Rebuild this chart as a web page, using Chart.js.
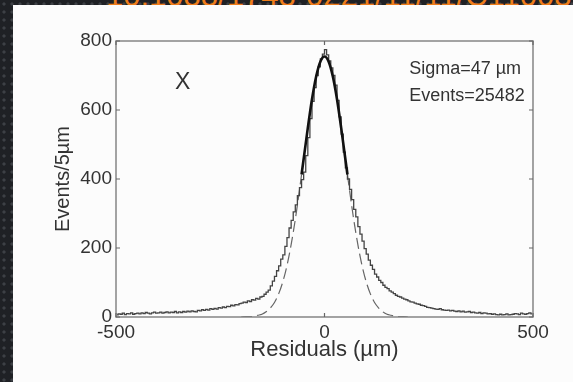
<!DOCTYPE html>
<html>
<head>
<meta charset="utf-8">
<script src="https://cdn.jsdelivr.net/npm/chart.js@4.4.0/dist/chart.umd.min.js"></script>
<style>
    html, body { margin: 0; padding: 0; }
    body {
        width: 573px; height: 382px; overflow: hidden; position: relative;
        background-color: #1f2125;
        background-image: radial-gradient(circle, #3d4045 1.3px, transparent 1.9px);
        background-size: 8px 8px;
    }
    #doi {
        position: absolute; left: 106px; top: -22px;
        font: 31px "Liberation Sans", Arial, sans-serif;
        color: #ef7d1a; white-space: nowrap;
    }
    #panel { position: absolute; left: 13px; top: 5px; right: 0; bottom: 0; background: #fcfcfc; }
    #wrap { position: absolute; left: 0; top: 0; width: 573px; height: 382px; }
</style>
</head>
<body>
<div id="doi">10.1088/1748-0221/11/11/C11003</div>
<div id="panel"></div>
<div id="wrap"><canvas id="resChart" width="573" height="382"></canvas></div>

<script>
// ---------------- Data ----------------
const binStart = -500;
const binWidth = 5;   // Events per 5 um
const counts = [
    // -500 .. -450
    6, 9, 8, 11, 7, 10, 9, 12, 8, 10,
    // -450 .. -400
    11, 9, 12, 10, 13, 11, 9, 12, 14, 11,
    // -400 .. -350
    12, 14, 11, 13, 15, 12, 14, 13, 16, 12,
    // -350 .. -300
    15, 13, 16, 14, 17, 15, 18, 16, 15, 19,
    // -300 .. -250
    18, 21, 19, 22, 20, 24, 22, 25, 23, 27,
    // -250 .. -200
    26, 29, 27, 31, 30, 34, 32, 36, 35, 39,
    // -200 .. -150
    40, 43, 42, 47, 45, 50, 49, 54, 52, 58,
    // -150 .. -100
    60, 66, 72, 78, 90, 104, 118, 134, 148, 168,
    // -100 .. -50
    180, 205, 230, 258, 280, 305, 325, 352, 375, 398,
    // -50 .. 0
    420, 468, 520, 575, 625, 665, 700, 725, 748, 762,
    // 0 .. 50
    775, 760, 742, 722, 700, 672, 628, 580, 530, 478,
    // 50 .. 100
    432, 400, 370, 340, 312, 290, 262, 240, 220, 198,
    // 100 .. 150
    182, 165, 150, 138, 124, 116, 106, 100, 92, 86,
    // 150 .. 200
    82, 76, 72, 68, 63, 60, 58, 55, 52, 50,
    // 200 .. 250
    47, 44, 43, 40, 38, 37, 34, 33, 31, 28,
    // 250 .. 300
    27, 26, 24, 23, 22, 24, 21, 20, 19, 20,
    // 300 .. 350
    18, 19, 17, 16, 18, 15, 17, 14, 15, 16,
    // 350 .. 400
    13, 14, 12, 11, 13, 10, 12, 11, 9, 10,
    // 400 .. 450
    8, 9, 7, 6, 8, 6, 7, 9, 6, 7,
    // 450 .. 500
    8, 10, 9, 7, 11, 9, 8, 10, 12, 9
];

// gaussian fit (solid in the fit range, dashed outside)
const fitX = [-200, -190, -180, -170, -160, -150, -140, -130, -120, -110,
              -100, -90, -80, -70, -60, -55, -50, -40, -30, -20, -10,
              0, 10, 20, 30, 40, 50, 55, 60, 70, 80, 90,
              100, 110, 120, 130, 140, 150, 160, 170, 180, 190, 200];
const fitY = [0, 1, 1, 2, 5, 8, 15, 26, 42, 67,
              102, 149, 210, 283, 368, 413, 458, 548, 631, 697, 740,
              755, 740, 697, 631, 548, 458, 413, 368, 283, 210, 149,
              102, 67, 42, 26, 15, 8, 5, 2, 1, 1, 0];
const fitRange = 55;

const xTicks = [-500, 0, 500];
const yTicks = [0, 200, 400, 600, 800];

const notes = [
    { text: 'X', x: -340, y: 680, size: 23, align: 'center' },
    { text: 'Sigma=47 \u00b5m', x: 203, y: 719, size: 18, align: 'left' },
    { text: 'Events=25482', x: 203, y: 641, size: 18, align: 'left' }
];

// ---------------- Build datasets ----------------
const histPoints = counts.map((c, i) => ({ x: binStart + binWidth * (i + 0.5), y: c }));
const corePoints = [];
const tailPoints = [];
fitX.forEach((x, i) => {
    if (Math.abs(x) <= fitRange) corePoints.push({ x: x, y: fitY[i] });
    if (Math.abs(x) >= fitRange) tailPoints.push({ x: x, y: fitY[i] });
    if (x === -fitRange) tailPoints.push({ x: 0, y: null });
});

const FONT = '"Liberation Sans", Arial, sans-serif';
const TEXT = '#333333';

// ---------------- Plugins ----------------
const frameTicks = {
    id: 'frameTicks',
    afterDatasetsDraw(chart) {
        const { ctx, chartArea: a, scales: { x, y } } = chart;
        ctx.save();
        ctx.strokeStyle = '#858585';
        ctx.lineWidth = 1.5;
        ctx.strokeRect(a.left, a.top, a.right - a.left, a.bottom - a.top);
        ctx.strokeStyle = '#666666';
        ctx.lineWidth = 1.2;
        const len = 4;
        ctx.beginPath();
        xTicks.forEach(v => {
            const px = x.getPixelForValue(v);
            ctx.moveTo(px, a.bottom); ctx.lineTo(px, a.bottom - len);
            ctx.moveTo(px, a.top); ctx.lineTo(px, a.top + len);
        });
        yTicks.forEach(v => {
            const py = y.getPixelForValue(v);
            ctx.moveTo(a.left, py); ctx.lineTo(a.left + len, py);
            ctx.moveTo(a.right, py); ctx.lineTo(a.right - len, py);
        });
        ctx.stroke();
        ctx.restore();
    }
};

const notesPlugin = {
    id: 'notesPlugin',
    afterDraw(chart) {
        const { ctx, scales: { x, y } } = chart;
        ctx.save();
        ctx.fillStyle = TEXT;
        ctx.textBaseline = 'middle';
        notes.forEach(n => {
            ctx.font = n.size + 'px ' + FONT;
            ctx.textAlign = n.align;
            ctx.fillText(n.text, x.getPixelForValue(n.x), y.getPixelForValue(n.y));
        });
        ctx.restore();
    }
};

// ---------------- Chart ----------------
const ctx = document.getElementById('resChart').getContext('2d');
new Chart(ctx, {
    type: 'line',
    data: {
        datasets: [
            {
                label: 'fit',
                data: corePoints,
                borderColor: '#111111',
                borderWidth: 2.6,
                pointRadius: 0,
                cubicInterpolationMode: 'monotone',
                order: 0
            },
            {
                label: 'residuals',
                data: histPoints,
                stepped: 'middle',
                borderColor: '#444444',
                borderWidth: 1.3,
                pointRadius: 0,
                order: 1
            },
            {
                label: 'fit tails',
                data: tailPoints,
                borderColor: '#666666',
                borderWidth: 1.2,
                borderDash: [11, 5],
                pointRadius: 0,
                spanGaps: false,
                cubicInterpolationMode: 'monotone',
                order: 2
            }
        ]
    },
    options: {
        responsive: false,
        animation: false,
        devicePixelRatio: 1,
        layout: { padding: { top: 41, right: 40, left: 0, bottom: 0 } },
        plugins: { legend: { display: false }, tooltip: { enabled: false } },
        scales: {
            x: {
                type: 'linear',
                min: -500,
                max: 500,
                grid: { display: false, drawTicks: false },
                border: { display: false },
                afterBuildTicks(s) { s.ticks = xTicks.map(v => ({ value: v })); },
                afterFit(s) { s.height = 65; },
                ticks: { color: TEXT, font: { family: FONT, size: 19 }, padding: 4, maxRotation: 0, autoSkip: false },
                title: {
                    display: true,
                    text: 'Residuals (\u00b5m)',
                    color: TEXT,
                    font: { family: FONT, size: 22 },
                    padding: { top: 0, bottom: 19 }
                }
            },
            y: {
                min: 0,
                max: 800,
                grid: { display: false, drawTicks: false },
                border: { display: false },
                afterBuildTicks(s) { s.ticks = yTicks.map(v => ({ value: v })); },
                afterFit(s) { s.width = 116; },
                ticks: { color: TEXT, font: { family: FONT, size: 19 }, padding: 4 },
                title: {
                    display: true,
                    text: 'Events/5\u00b5m',
                    color: TEXT,
                    font: { family: FONT, size: 20 },
                    padding: { top: 51, bottom: 0 }
                }
            }
        }
    },
    plugins: [frameTicks, notesPlugin]
});
</script>
</body>
</html>
